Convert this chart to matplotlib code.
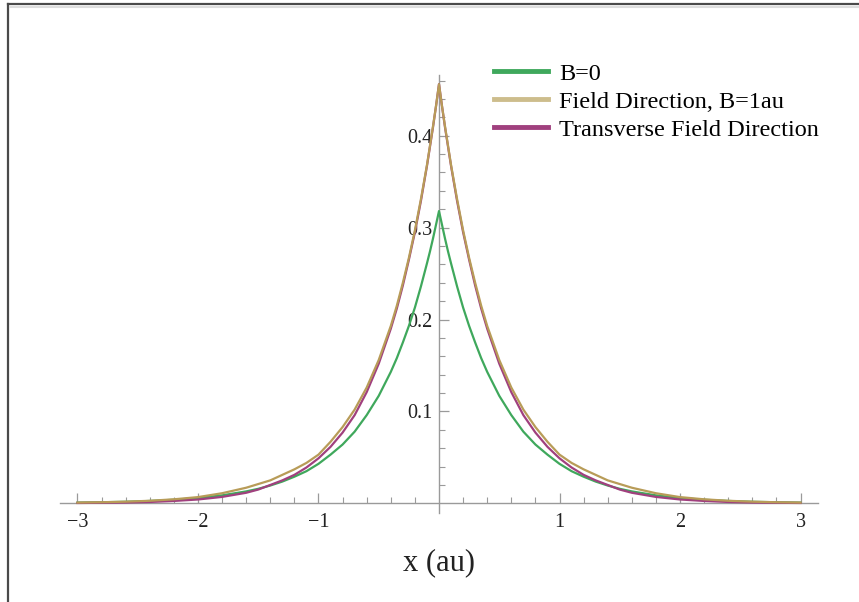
import matplotlib
matplotlib.use("Agg")
import matplotlib.pyplot as plt
from matplotlib.lines import Line2D
from matplotlib.ticker import FixedLocator

# ---- data ----
x_vals = [-3.0, -2.8, -2.6, -2.4, -2.2, -2.0, -1.8, -1.6, -1.5, -1.4, -1.3, -1.2, -1.1,
          -1.0, -0.9, -0.8, -0.7, -0.6, -0.5, -0.4, -0.35, -0.3, -0.25, -0.2, -0.15,
          -0.1, -0.075, -0.05, -0.025, 0.0,
          0.025, 0.05, 0.075, 0.1, 0.15, 0.2, 0.25, 0.3, 0.35, 0.4, 0.5, 0.6, 0.7,
          0.8, 0.9, 1.0, 1.1, 1.2, 1.3, 1.4, 1.5, 1.6, 1.8, 2.0, 2.2, 2.4, 2.6, 2.8, 3.0]

b0 = [0.0008, 0.0012, 0.0017, 0.0026, 0.0039, 0.0058, 0.0087, 0.0130, 0.0158, 0.0194,
      0.0237, 0.0290, 0.0350, 0.0430, 0.0530, 0.0640, 0.0780, 0.0960, 0.1170, 0.1430,
      0.1580, 0.1750, 0.1930, 0.2130, 0.2360, 0.2610, 0.2740, 0.2880, 0.3030, 0.3180,
      0.3030, 0.2880, 0.2740, 0.2610, 0.2360, 0.2130, 0.1930, 0.1750, 0.1580, 0.1430,
      0.1170, 0.0960, 0.0780, 0.0640, 0.0530, 0.0430, 0.0350, 0.0290, 0.0237, 0.0194,
      0.0158, 0.0130, 0.0087, 0.0058, 0.0039, 0.0026, 0.0017, 0.0012, 0.0008]

field_dir = [0.0008, 0.0012, 0.0018, 0.0028, 0.0044, 0.0068, 0.0110, 0.0170, 0.0210,
             0.0250, 0.0310, 0.0370, 0.0440, 0.0530, 0.0670, 0.0830, 0.1020, 0.1260,
             0.1560, 0.1930, 0.2150, 0.2400, 0.2670, 0.2970, 0.3310, 0.3680, 0.3890,
             0.4100, 0.4320, 0.4560,
             0.4320, 0.4100, 0.3890, 0.3680, 0.3310, 0.2970, 0.2670, 0.2400, 0.2150,
             0.1930, 0.1560, 0.1260, 0.1020, 0.0830, 0.0670, 0.0530, 0.0440, 0.0370,
             0.0310, 0.0250, 0.0210, 0.0170, 0.0110, 0.0068, 0.0044, 0.0028, 0.0018,
             0.0012, 0.0008]

transverse = [0.0004, 0.0006, 0.0009, 0.0015, 0.0026, 0.0042, 0.0070, 0.0115, 0.0150,
              0.0200, 0.0250, 0.0310, 0.0390, 0.0490, 0.0615, 0.0770, 0.0960, 0.1210,
              0.1520, 0.1900, 0.2120, 0.2370, 0.2650, 0.2950, 0.3290, 0.3670, 0.3880,
              0.4090, 0.4320, 0.4560,
              0.4320, 0.4090, 0.3880, 0.3670, 0.3290, 0.2950, 0.2650, 0.2370, 0.2120,
              0.1900, 0.1520, 0.1210, 0.0960, 0.0770, 0.0615, 0.0490, 0.0390, 0.0310,
              0.0250, 0.0200, 0.0150, 0.0115, 0.0070, 0.0042, 0.0026, 0.0015, 0.0009,
              0.0006, 0.0004]

labels = ["B=0", "Field Direction, B=1au", "Transverse Field Direction"]
colors = ["#3fa85c", "#b89c58", "#a0407e"]
legend_colors = ["#3fa85c", "#cdbd8c", "#a0407e"]

x_major = [-3, -2, -1, 1, 2, 3]
y_major = [0.1, 0.2, 0.3, 0.4]

# ---- figure ----
plt.rcParams['font.family'] = ['Liberation Serif', 'DejaVu Serif']
fig = plt.figure(figsize=(8.59, 6.02), dpi=100)
ax = fig.add_axes([60 / 859, 1 - 513 / 602, 758 / 859, (513 - 75) / 602])

ax.plot(x_vals, b0, color=colors[0], lw=1.6, zorder=3)
ax.plot(x_vals, transverse, color=colors[2], lw=1.6, zorder=3)
ax.plot(x_vals, field_dir, color=colors[1], lw=1.6, zorder=4)

ax.set_xlim(-3.145, 3.145)
ax.set_ylim(-0.0105, 0.466)

for s in ['top', 'right']:
    ax.spines[s].set_visible(False)
ax.spines['left'].set_position(('data', 0))
ax.spines['bottom'].set_position(('data', 0))
for s in ['left', 'bottom']:
    ax.spines[s].set_color('#9a9a9a')
    ax.spines[s].set_linewidth(1.0)

ax.xaxis.set_major_locator(FixedLocator(x_major))
ax.xaxis.set_minor_locator(FixedLocator([v / 5 for v in range(-15, 16) if v % 5 != 0]))
ax.yaxis.set_major_locator(FixedLocator(y_major))
ax.yaxis.set_minor_locator(FixedLocator([v / 50 for v in range(1, 24) if v % 5 != 0]))
ax.set_xticklabels([("\u2212%d" % -v) if v < 0 else str(v) for v in x_major])
ax.set_yticklabels(["%.1f" % v for v in y_major])

ax.tick_params(axis='both', which='both', direction='in', color='#9a9a9a',
               labelsize=14.5, labelcolor='#222222')
ax.tick_params(axis='x', which='major', length=7, width=0.9, pad=7)
ax.tick_params(axis='y', which='major', length=7, width=0.9, pad=5)
ax.tick_params(axis='both', which='minor', length=4, width=0.8)

fig.text(439 / 859, 1 - 563 / 602, "x (au)", ha='center', va='center',
         fontsize=22, color='#222222')

handles = [Line2D([0], [0], color=c, lw=3.5) for c in legend_colors]
ax.legend(handles, labels, loc='upper left', bbox_to_anchor=(424 / 758, 1.05),
          frameon=False, fontsize=17.5, handlelength=2.25, handletextpad=0.45,
          labelspacing=0.24, borderaxespad=0)

# frame of the screenshot (left and top edges)
fig.add_artist(Line2D([7.5 / 859, 7.5 / 859], [0, 1 - 4 / 602], transform=fig.transFigure,
                      color='#4a4a4a', lw=1.6))
fig.add_artist(Line2D([7.5 / 859, 1], [1 - 4 / 602, 1 - 4 / 602], transform=fig.transFigure,
                      color='#4a4a4a', lw=1.6))
fig.add_artist(Line2D([9.5 / 859, 1], [1 - 6.5 / 602, 1 - 6.5 / 602], transform=fig.transFigure,
                      color='#dddddd', lw=1.5))

fig.savefig("out.png", dpi=100)
